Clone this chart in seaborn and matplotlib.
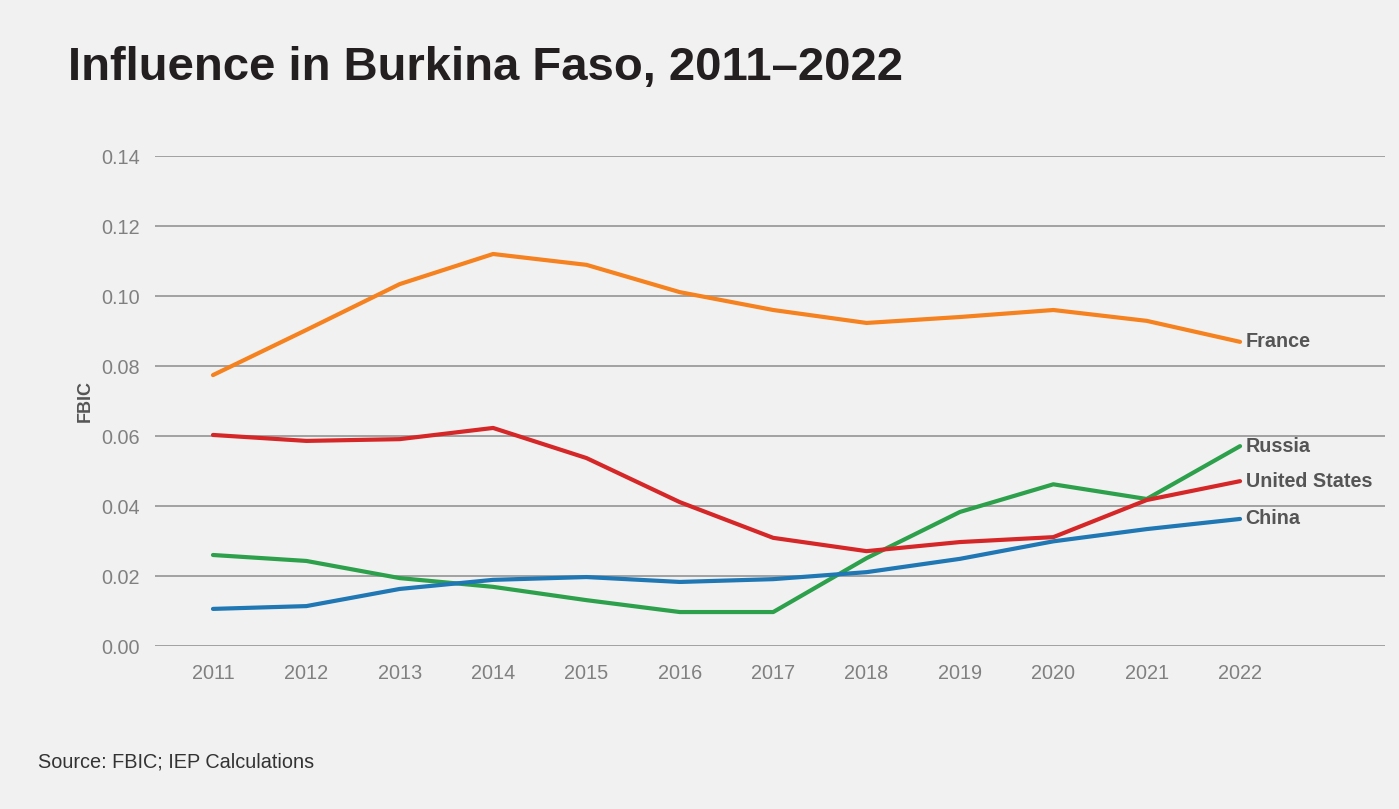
import numpy as np
import pandas as pd
import matplotlib.pyplot as plt
import seaborn as sns

# data
years = list(range(2011, 2023))
france = [0.0774, 0.0903, 0.1034, 0.1120, 0.1089, 0.1011, 0.0960, 0.0923, 0.0940, 0.0960, 0.0929, 0.0869]
russia = [0.0260, 0.0243, 0.0194, 0.0169, 0.0131, 0.0097, 0.0097, 0.0251, 0.0383, 0.0462, 0.0420, 0.0571]
united_states = [0.0603, 0.0586, 0.0591, 0.0623, 0.0537, 0.0411, 0.0309, 0.0271, 0.0297, 0.0311, 0.0417, 0.0471]
china = [0.0106, 0.0114, 0.0163, 0.0189, 0.0197, 0.0183, 0.0191, 0.0211, 0.0249, 0.0299, 0.0334, 0.0363]

countries = ["France", "Russia", "United States", "China"]
colors = {"France": "#f5821f", "Russia": "#2ca04a", "United States": "#d62728", "China": "#1f77b4"}

df = pd.DataFrame({
    "year": years * 4,
    "value": france + russia + united_states + china,
    "country": np.repeat(countries, len(years)),
})

bg = "#f1f1f1"
sns.set_theme(style="white")
plt.rcParams["font.family"] = ["Liberation Sans", "DejaVu Sans"]

fig = plt.figure(figsize=(13.99, 8.09), dpi=100, facecolor=bg)
ax = fig.add_axes([155 / 1399, 1 - 646 / 809, (1385 - 155) / 1399, (646 - 156) / 809])
ax.set_facecolor(bg)

sns.lineplot(data=df, x="year", y="value", hue="country", hue_order=countries,
             palette=colors, linewidth=3.0, legend=False, ax=ax, zorder=3)

ax.set_xlim(2011 - 58 / 93.4, 2022 + 145 / 93.4)
ax.set_ylim(0, 0.14)
ax.set_yticks(np.arange(0, 0.141, 0.02))
ax.set_yticklabels([f"{v:.2f}" for v in np.arange(0, 0.141, 0.02)])
ax.set_xticks(years)
ax.yaxis.grid(True, color="#8c8c8c", linewidth=1.1)
ax.xaxis.grid(False)
for s in ax.spines.values():
    s.set_visible(False)
ax.tick_params(axis="both", length=0, labelsize=14.3, labelcolor="#808080")
ax.tick_params(axis="y", pad=11)
ax.tick_params(axis="x", pad=13)
ax.set_xlabel("")
ax.set_ylabel("FBIC", fontsize=13, fontweight="bold", color="#555555", labelpad=5)

# end labels
ends = {"France": france[-1], "Russia": russia[-1], "United States": united_states[-1], "China": china[-1]}
for c, v in ends.items():
    ax.annotate(c, (2022, v), xytext=(4, 0), textcoords="offset points",
                va="center", ha="left", fontsize=14.2, fontweight="bold", color="#555555")

fig.text(68 / 1399, 1 - 68 / 809, "Influence in Burkina Faso, 2011\u20132022",
         fontsize=34, fontweight="bold", color="#231f20", va="center", ha="left")
fig.text(38 / 1399, 1 - 762 / 809, "Source: FBIC; IEP Calculations",
         fontsize=14.3, color="#333333", va="center", ha="left")

fig.savefig("out.png", dpi=100, facecolor=bg)
